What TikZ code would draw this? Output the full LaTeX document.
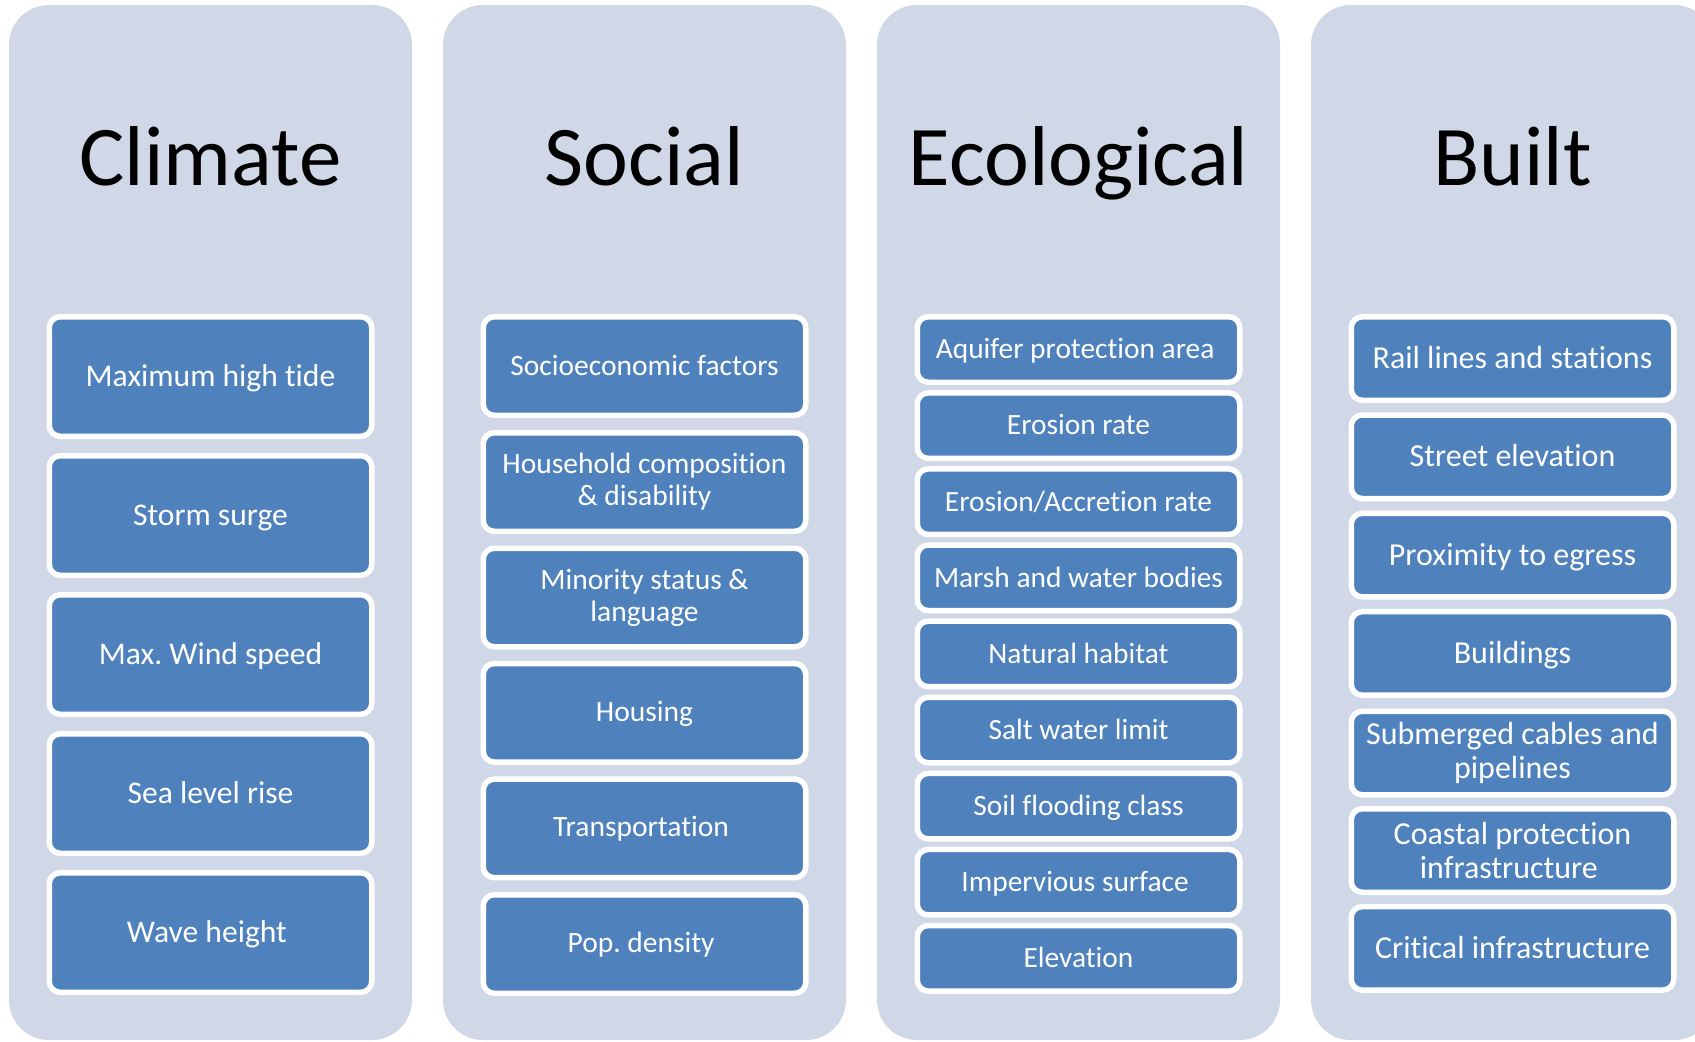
\documentclass[tikz,border=0pt]{standalone}
\usepackage{fontspec}
\setmainfont{Carlito}[Ligatures=NoCommon]
\definecolor{colbg}{RGB}{208,216,232}
\definecolor{boxblue}{RGB}{79,129,189}
\tikzset{
  colbox/.style={fill=colbg, rounded corners=20pt},
  coltitle/.style={font=\fontsize{42.5}{50}\selectfont, anchor=base, inner sep=0pt, text=black},
  item/.style={draw=white, line width=2.75pt, fill=boxblue, rounded corners=5.5pt,
    text=white, align=center, inner sep=0pt, minimum width=161.25pt},
  climitem/.style={item, minimum height=59.75pt, font=\fontsize{15.8}{17.4}\selectfont, text height=10pt, text depth=0pt},
  socitem/.style={item, minimum height=49.25pt, font=\fontsize{14.75}{15.9}\selectfont},
  socone/.style={socitem, text height=9.3pt, text depth=0pt},
  ecoitem/.style={item, minimum height=32.75pt, font=\fontsize{14.7}{16.2}\selectfont, text height=9.3pt, text depth=0pt},
  builtitem/.style={item, minimum height=41.75pt, font=\fontsize{16}{17.3}\selectfont},
  builtone/.style={builtitem, text height=10.1pt, text depth=0pt},
}
\newcommand{\tsp}{\hspace*{0.23em}}
\frenchspacing
\begin{document}
\begin{tikzpicture}[x=0.5pt, y=-0.5pt]
\useasboundingbox (0,0) rectangle (1695,1041);
\clip (0,0) rectangle (1695,1041);
% columns
\fill[colbox] (9,5) rectangle (412,1040);
\fill[colbox] (443,5) rectangle (846,1040);
\fill[colbox] (877,5) rectangle (1280,1040);
\fill[colbox] (1311,5) rectangle (1714,1040);
% titles
\node[coltitle] (tclim) at (210.5,185) {Climate};
\node[coltitle] (tsoc) at (644.5,185) {Social};
\node[coltitle] (teco) at (1078.5,185) {Ecological};
\node[coltitle] (tbuilt) at (1512.5,185) {Built};
% climate
\node[climitem] (c1) at (210.5,376.5) {Maximum high tide};
\node[climitem] (c2) at (210.5,515.5) {Storm surge};
\node[climitem] (c3) at (210.5,654.5) {Max. Wind speed};
\node[climitem] (c4) at (210.5,793.5) {Sea level rise};
\node[climitem] (c5) at (210.5,932.5) {Wave height\tsp};
% social
\node[socone] (s1) at (644.5,366) {Socioeconomic factors};
\node[socitem] (s2) at (644.5,482) {Household composition\\ \& disability};
\node[socitem] (s3) at (644.5,597.5) {Minority status \&\\ language};
\node[socone, text height=8.3pt] (s4) at (644.5,712.8) {Housing};
\node[socone, text height=8.3pt] (s5) at (644.5,828.4) {Transportation\tsp};
\node[socone, text height=8.3pt] (s6) at (644.5,944) {Pop. density\tsp};
% ecological
\node[ecoitem] (e1) at (1078.5,349.5) {Aquifer protection area\tsp};
\node[ecoitem] (e2) at (1078.5,425.6) {Erosion rate};
\node[ecoitem] (e3) at (1078.5,501.7) {Erosion/Accretion rate};
\node[ecoitem] (e4) at (1078.5,577.8) {Marsh and water bodies};
\node[ecoitem] (e5) at (1078.5,653.9) {Natural habitat};
\node[ecoitem] (e6) at (1078.5,730) {Salt water limit};
\node[ecoitem] (e7) at (1078.5,806.1) {Soil flooding class};
\node[ecoitem] (e8) at (1078.5,882.2) {Impervious surface\tsp};
\node[ecoitem] (e9) at (1078.5,958.3) {Elevation};
% built
\node[builtone] (b1) at (1512.5,358.5) {Rail lines and stations};
\node[builtone] (b2) at (1512.5,456.8) {Street elevation};
\node[builtone] (b3) at (1512.5,555.1) {Proximity to egress};
\node[builtone] (b4) at (1512.5,653.4) {Buildings};
\node[builtitem] (b5) at (1512.5,753) {Submerged cables and\\ pipelines};
\node[builtitem] (b6) at (1512.5,850.5) {Coastal protection\\ infrastructure\tsp};
\node[builtone] (b7) at (1512.5,948.3) {Critical infrastructure};
\end{tikzpicture}
\end{document}
